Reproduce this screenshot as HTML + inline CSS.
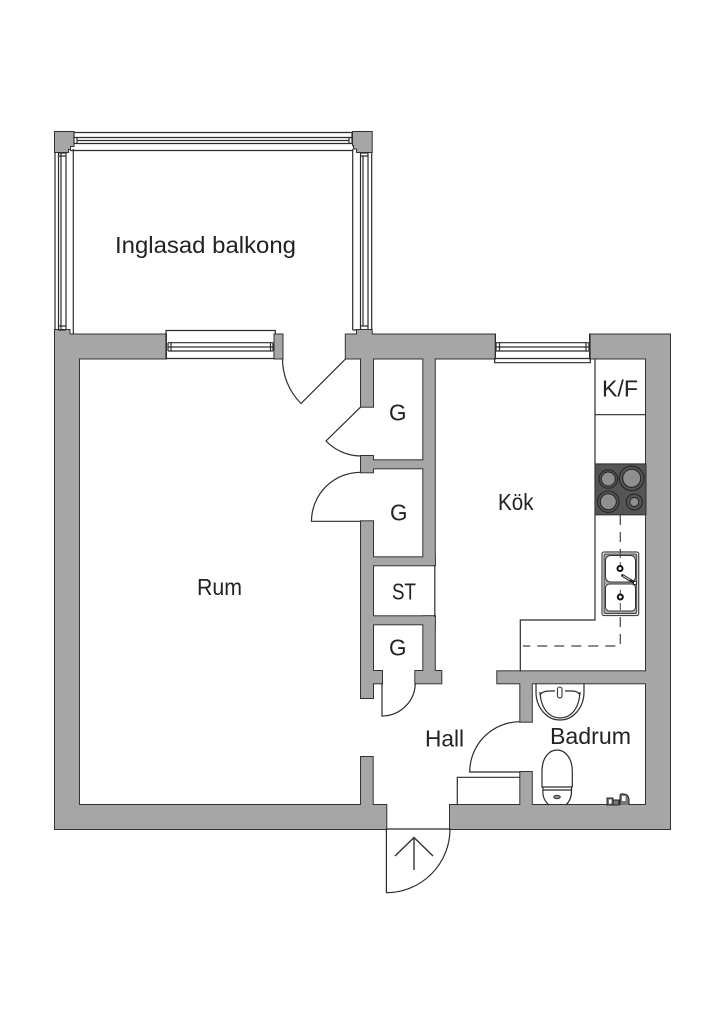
<!DOCTYPE html>
<html><head><meta charset="utf-8"><style>
html,body{margin:0;padding:0;background:#fff}
svg{display:block}
text{font-family:"Liberation Sans",sans-serif;font-size:23px;fill:#222}
.l{fill:none;stroke:#2c2c2c;stroke-width:1.2}
</style></head><body>
<svg width="724" height="1024" viewBox="0 0 724 1024" xmlns="http://www.w3.org/2000/svg">
<rect width="724" height="1024" fill="#fff"/>
<defs><g id="w">
<!-- perimeter -->
<path d="M55 330H69.500V334.500H166V358.500H79V805H386.300V829H55Z"/>
<rect x="274.500" y="334.500" width="8" height="24"/>
<path d="M345.800 334.500H357V330H371.700V334.500H495V358.500H345.800Z"/>
<path d="M590 334.500H670V829H450V805H646V358.500H590Z"/>
<!-- balcony corners -->
<path d="M55 132H73.500V146H70V149H68V152H55Z"/>
<path d="M353 132H371.700V152H357V148.500H354V145H353Z"/>
<!-- closets -->
<rect x="361" y="358" width="12" height="48.700"/>
<rect x="423.300" y="358" width="11.500" height="207"/>
<rect x="361" y="456" width="12" height="16.300"/>
<rect x="372" y="460.300" width="52" height="8"/>
<rect x="361" y="521.300" width="12" height="176.700"/>
<rect x="372" y="557.300" width="62.800" height="8"/>
<rect x="372" y="616.300" width="62.800" height="8"/>
<rect x="423.300" y="616.300" width="11.500" height="60"/>
<rect x="372" y="671" width="10" height="12.300"/>
<rect x="415.300" y="671" width="26" height="12.300"/>
<!-- kitchen / bath -->
<rect x="497.300" y="671.300" width="150" height="12"/>
<rect x="520.300" y="682" width="11.500" height="39.700"/>
<rect x="520.300" y="772" width="11.500" height="34"/>
<!-- entry stub -->
<rect x="361" y="757" width="11.700" height="49"/>
</g></defs>
<use href="#w" fill="#333" stroke="#333" stroke-width="2"/>
<use href="#w" fill="#a6a6a6"/>

<!-- top balcony glazing -->
<path class="l" d="M73.500 132.500H353M74 137.500H352M77 140.500H349M74 143.500H352M70 150.500H353"/>
<path class="l" d="M74 133V143.500M77 137.500V143.500M352 133V143.500M349 137.500V143.500"/>
<!-- left balcony glazing -->
<path class="l" d="M55 152V330M58.500 152V330M61 153V330M66 153V330M73.300 149V330M58 153H66M58 156H66M58 326H66M58 330H66"/>
<path class="l" d="M73.300 330V334.500"/>
<!-- right balcony glazing -->
<path class="l" d="M352.700 149V330M360.500 153V330M363 156V326M368 153V330M371.700 152V330M360 153H368M360 156H368M360 326H368M352.700 330H357"/>

<!-- balcony door window -->
<path class="l" d="M166 358.500V330.500H275.300V334.500M166 358.500H274.500"/>
<path class="l" d="M168 342.700H273M168 347H273M168 351H273M168 342.700V351M171 342.700V351M273 342.700V351M270.500 342.700V351"/>
<!-- kitchen window -->
<path class="l" d="M495.300 334.500V358.500M590 334.500V358.500M495 358.500H590M494.700 358V362.700H590.300V358"/>
<path class="l" d="M496 342.700H589M496 347H589M496 351H589M496 342.700V351M499.500 342.700V351M586 342.700V351M589 342.700V351"/>

<!-- doors -->
<path class="l" d="M282.500 358.700A63.500 63.500 0 0 0 301 403.500L345.800 358.700"/>
<path class="l" d="M361 406.700L326 441A49 49 0 0 0 361 456"/>
<path class="l" d="M361 472.300A49 49 0 0 0 311.500 521.300H361"/>
<path class="l" d="M382 683V716A33.300 33.300 0 0 0 415.300 683"/>
<path class="l" d="M520.300 721.700A50.300 50.300 0 0 0 469.700 772H520.300"/>
<path class="l" d="M386.400 829H450V829A63.700 63.700 0 0 1 386.400 892.700Z"/>
<path d="M414 870V838M395 856L414 837.500L433 856" fill="none" stroke="#333" stroke-width="1.4"/>

<!-- closet right line -->
<path class="l" d="M434.800 565V617"/>

<!-- kitchen -->
<path class="l" d="M595 358.500V620H520.300V671.300M595 414.700H646M595 464H646M595 514.700H646"/>
<path class="l" d="M457.300 805V777.300H520.300"/>
<rect x="595" y="464" width="51" height="50.700" fill="#555" stroke="#333"/>
<g fill="#8f8f8f" stroke="#222" stroke-width="1">
<circle cx="608.300" cy="479" r="7"/><circle cx="631.700" cy="478.300" r="9"/><circle cx="608.300" cy="501.700" r="8"/><circle cx="634.300" cy="502" r="4.500"/>
</g>
<g fill="none" stroke="#222" stroke-width="1">
<circle cx="608.300" cy="479" r="9.300"/><circle cx="631.700" cy="478.300" r="12.300"/><circle cx="608.300" cy="501.700" r="10.700"/><circle cx="634.300" cy="502" r="8"/>
</g>
<path d="M620.300 515V646H523" fill="none" stroke="#444" stroke-width="1.2" stroke-dasharray="10 7"/>
<!-- sink -->
<rect x="602" y="552" width="36.700" height="63.500" rx="2" fill="#fff" stroke="#444" stroke-width="1.2"/>
<rect x="604" y="554" width="32.700" height="59.500" rx="1.500" fill="#aaa" stroke="#444" stroke-width="1"/>
<rect x="605.500" y="555.500" width="30" height="26.500" rx="5" fill="#fff" stroke="#333"/>
<rect x="605.500" y="584" width="30" height="27" rx="4" fill="#fff" stroke="#333"/>
<path d="M620.300 552V558M620.300 562V575M620.300 590V611" stroke="#444" fill="none" stroke-dasharray="7 6"/>
<circle cx="620" cy="568.500" r="2.500" fill="#fff" stroke="#111" stroke-width="2"/>
<circle cx="620.300" cy="597" r="2.500" fill="#fff" stroke="#111" stroke-width="2"/>
<path d="M622.500 575.500L634 582.500" stroke="#222" stroke-width="2.800" stroke-linecap="round"/>
<path d="M623 575.800L630 580" stroke="#ddd" stroke-width="1"/>
<circle cx="635" cy="583" r="1.700" fill="#fff" stroke="#222"/>

<!-- bath basin -->
<path class="l" d="M536 683.500V692A24 28 0 0 0 584 692V683.500"/>
<path class="l" d="M540 692C541 712 552 718 560 718C570 718 579 710 580 692"/>
<path class="l" d="M540 695Q542 691 550 691H555M565 691H572Q578 691 580 695"/>
<rect x="557.500" y="687" width="4.500" height="11" rx="2.200" fill="#fff" stroke="#333" stroke-width="1.100"/>
<!-- toilet -->
<path class="l" d="M542 787V771C542 758 549 750 557 750C565 750 572.300 758 572.300 771V787Z"/>
<path class="l" d="M543 787V790H571.500V787"/>
<path class="l" d="M543 790Q542 799 549 805M571.500 790Q572 799 566 805"/>
<ellipse cx="557" cy="797" rx="3.300" ry="1.600" fill="#999" stroke="#333"/>
<!-- bath small fixture -->
<path d="M607 798H613V805H607ZM613 800H619V805H613ZM620 805V796Q620 793 624 794Q628 794 629 799V805" fill="#777" stroke="#222" stroke-width="1"/>
<rect x="609" y="799.500" width="2.500" height="4" fill="#fff"/>
<rect x="622" y="796" width="3.500" height="5" fill="#fff"/>

<!-- labels -->
<text x="115" y="253" textLength="181" lengthAdjust="spacingAndGlyphs">Inglasad balkong</text>
<text x="197" y="595" textLength="45" lengthAdjust="spacingAndGlyphs">Rum</text>
<text x="498" y="510" textLength="35.500" lengthAdjust="spacingAndGlyphs">Kök</text>
<text x="602" y="396.700" textLength="36" lengthAdjust="spacingAndGlyphs">K/F</text>
<text x="389" y="420.700" textLength="17.500" lengthAdjust="spacingAndGlyphs">G</text>
<text x="390" y="520.700" textLength="17.500" lengthAdjust="spacingAndGlyphs">G</text>
<text x="392" y="599.300" textLength="24" lengthAdjust="spacingAndGlyphs">ST</text>
<text x="389" y="655.500" textLength="17.500" lengthAdjust="spacingAndGlyphs">G</text>
<text x="425" y="746.700" textLength="39" lengthAdjust="spacingAndGlyphs">Hall</text>
<text x="550" y="744" textLength="81" lengthAdjust="spacingAndGlyphs">Badrum</text>
</svg>
</body></html>
